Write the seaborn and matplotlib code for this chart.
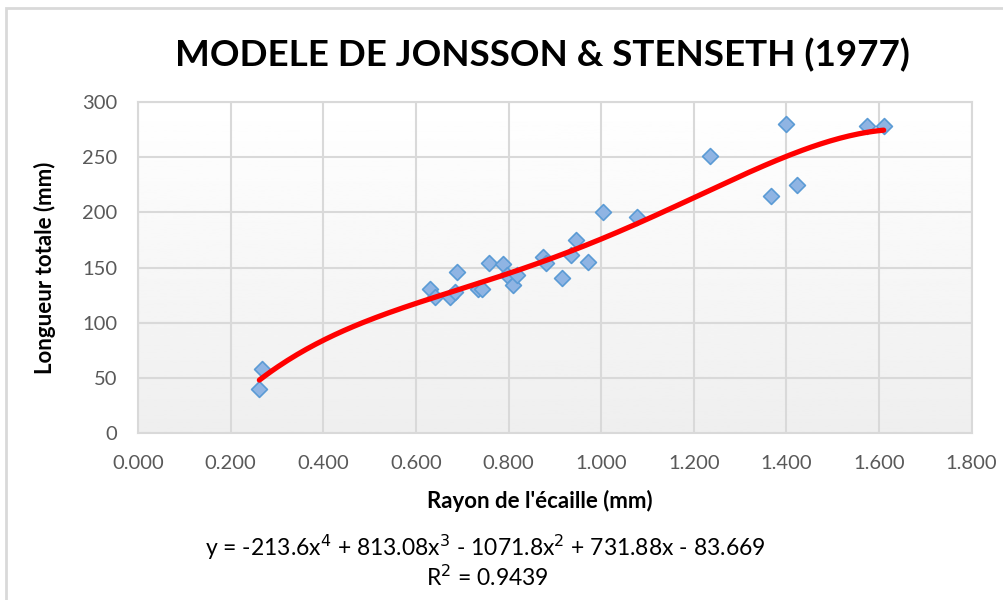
import numpy as np
import pandas as pd
import matplotlib
matplotlib.use("Agg")
import matplotlib.pyplot as plt
from matplotlib.patches import Rectangle
import seaborn as sns

# Data
rayon_mm = [0.262, 0.268, 0.630, 0.641, 0.688, 0.673, 0.685, 0.733, 0.743, 0.758,
            0.789, 0.796, 0.809, 0.818, 0.874, 0.880, 0.916, 0.934, 0.946, 0.972,
            1.004, 1.077, 1.236, 1.367, 1.423, 1.400, 1.574, 1.610]
longueur_mm = [40, 58, 131, 123, 146, 123, 128, 131, 131, 154,
               153, 143, 134, 143, 160, 154, 141, 161, 175, 155,
               200, 196, 251, 215, 225, 280, 278, 278]

# Trendline coefficients as shown on chart (x^4 .. x^0)
trend_coefs = [-213.6, 813.08, -1071.8, 731.88, -83.669]

title = "MODELE DE JONSSON & STENSETH (1977)"
xlabel = "Rayon de l'écaille (mm)"
ylabel = "Longueur totale (mm)"
xticks = [0.0, 0.2, 0.4, 0.6, 0.8, 1.0, 1.2, 1.4, 1.6, 1.8]
yticks = [0, 50, 100, 150, 200, 250, 300]

sns.set_theme(style="whitegrid")
plt.rcParams['font.family'] = ['Lato', 'DejaVu Sans']

fig = plt.figure(figsize=(10.04, 6.0), dpi=100)
ax = fig.add_axes([0.1375, 0.278, 0.8303, 0.552])

df = pd.DataFrame({"x": rayon_mm, "y": longueur_mm})
xs = np.linspace(min(rayon_mm), max(rayon_mm), 200)
trend = pd.DataFrame({"x": xs, "y": np.polyval(trend_coefs, xs)})

# gradient background of plot area (white at top, light grey at bottom)
grad = np.linspace(1.0, 0.935, 256).reshape(-1, 1)
ax.imshow(grad, extent=[0, 1, 0, 1], transform=ax.transAxes, cmap="gray",
          vmin=0, vmax=1, aspect="auto", zorder=0)

sns.scatterplot(data=df, x="x", y="y", ax=ax, marker="D", s=65,
                color="#8fb4e3", edgecolor="#5b9bd5", linewidth=1.2, zorder=3)
sns.lineplot(data=trend, x="x", y="y", ax=ax, color="#ff0000", linewidth=3.8,
             zorder=4, sort=False)

ax.set_xlim(0, 1.8)
ax.set_ylim(0, 300)
ax.set_xticks(xticks)
ax.set_yticks(yticks)
ax.set_xticklabels([f"{v:.3f}" for v in xticks])
ax.set_yticklabels([str(v) for v in yticks])
ax.tick_params(axis="both", labelsize=14.5, labelcolor="#595959", length=0)
ax.tick_params(axis="x", pad=16)
ax.tick_params(axis="y", pad=15)
ax.grid(True, color="#d9d9d9", linewidth=1.5)
ax.set_axisbelow(True)
for s in ax.spines.values():
    s.set_color("#d9d9d9")
    s.set_linewidth(1.5)

ax.set_xlabel(xlabel, fontsize=16, fontweight="bold", color="black")
ax.set_ylabel(ylabel, fontsize=16, fontweight="bold", color="black")
ax.xaxis.set_label_coords(0.482, -0.172)
ax.yaxis.set_label_coords(-0.099, 0.499)

fig.text(0.54, 0.908, title, ha="center", va="center", fontsize=26.5,
         fontweight="bold", color="black")
fig.text(0.483, 0.087, "y = -213.6x$^4$ + 813.08x$^3$ - 1071.8x$^2$ + 731.88x - 83.669",
         ha="center", va="center", fontsize=16.5, color="black")
fig.text(0.485, 0.038, "R$^2$ = 0.9439", ha="center", va="center", fontsize=16.5,
         color="black")

fig.patches.append(Rectangle((6 / 1004, -0.01), 1.02, 1 - 8 / 600 + 0.01,
                             transform=fig.transFigure, fill=False,
                             edgecolor="#d9d9d9", linewidth=2))

fig.savefig("out.png", dpi=100, facecolor="white")
